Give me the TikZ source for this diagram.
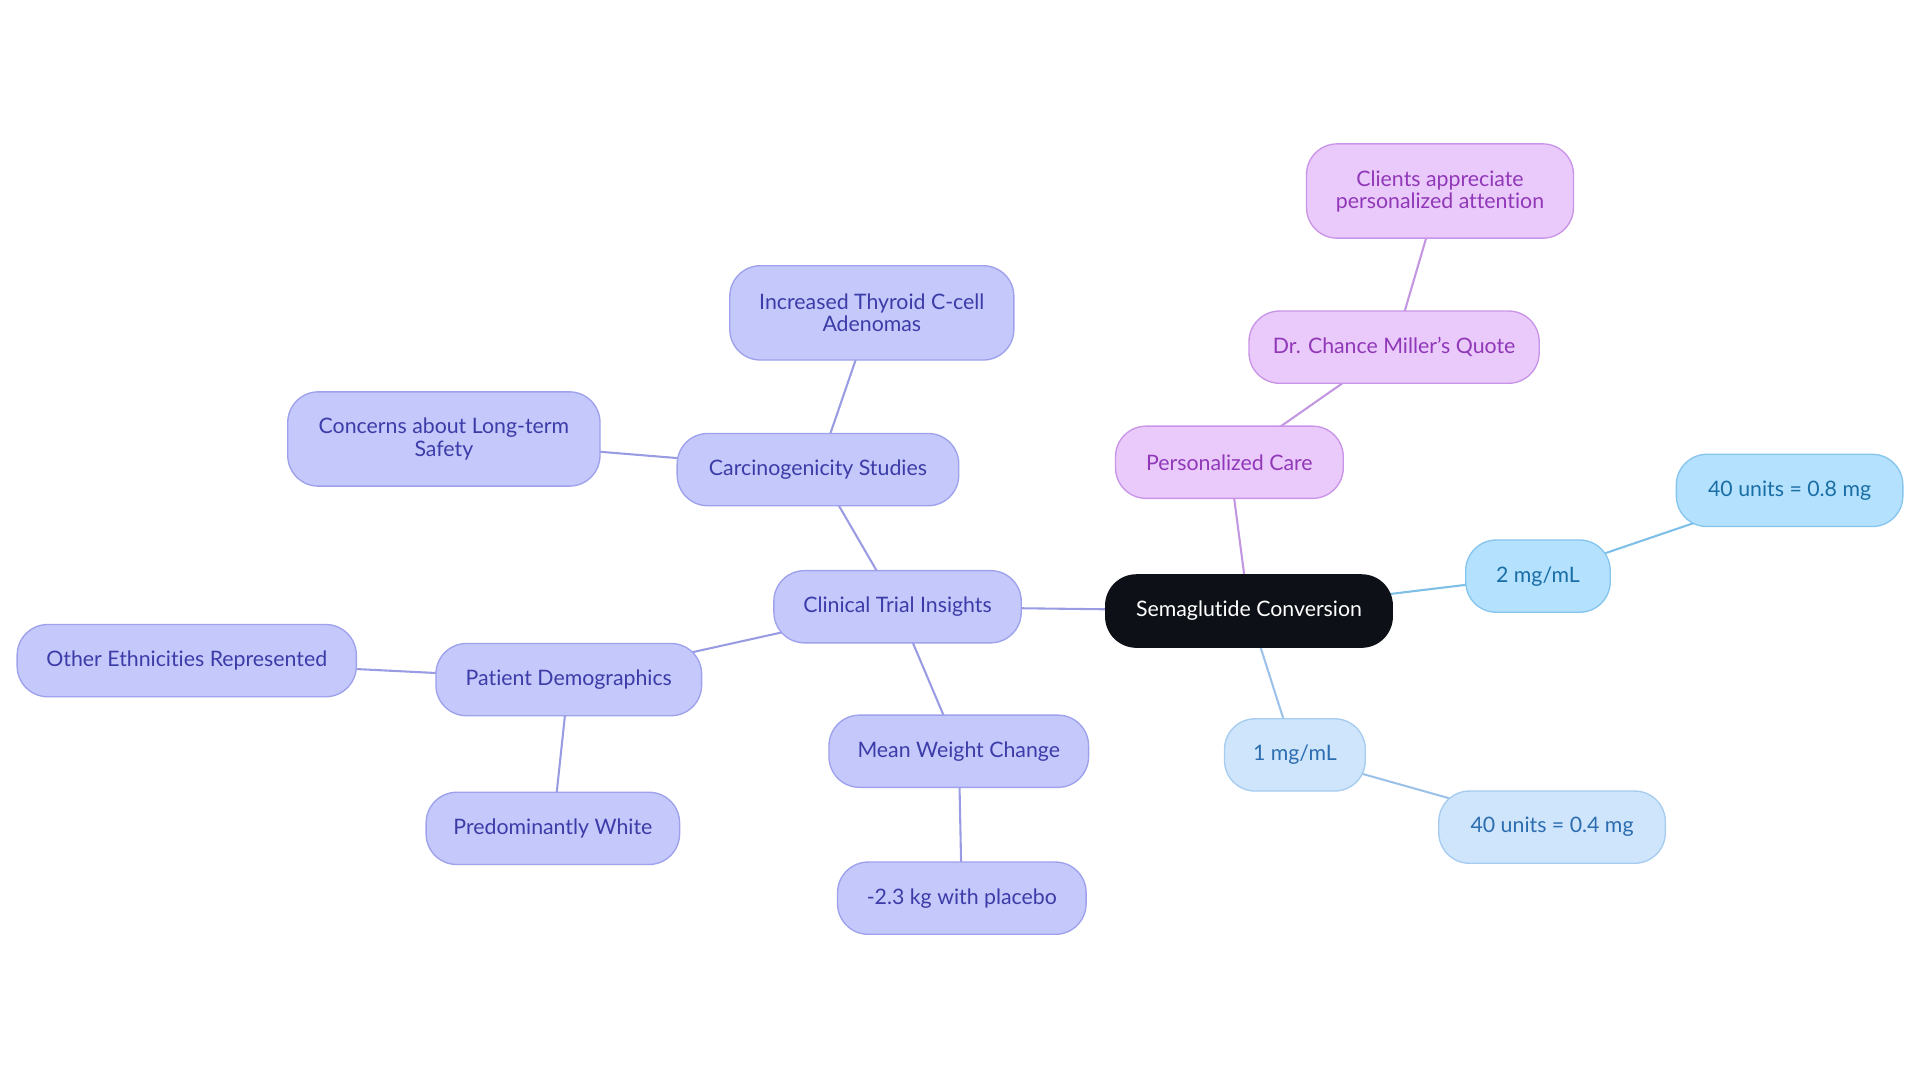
\documentclass[tikz,border=0pt]{standalone}
\usepackage{fontspec}
\setmainfont{Lato}[Ligatures=NoCommon]
\usetikzlibrary{backgrounds}
\definecolor{lavFill}{HTML}{C5C8FB}
\definecolor{lavDraw}{HTML}{9EA1EB}
\definecolor{lavText}{HTML}{3C3CA8}
\definecolor{lavEdge}{HTML}{9A9CE3}
\definecolor{purFill}{HTML}{EAC9FB}
\definecolor{purDraw}{HTML}{C995E8}
\definecolor{purText}{HTML}{9038B8}
\definecolor{purEdge}{HTML}{C396E2}
\definecolor{bluFill}{HTML}{B4E1FD}
\definecolor{bluDraw}{HTML}{86C6EE}
\definecolor{bluText}{HTML}{1A6EA6}
\definecolor{bluEdge}{HTML}{7DBFE6}
\definecolor{lbFill}{HTML}{CFE5FB}
\definecolor{lbDraw}{HTML}{A6CCF0}
\definecolor{lbText}{HTML}{2B6DB0}
\definecolor{lbEdge}{HTML}{9DC2EA}
\definecolor{darkFill}{HTML}{0D1117}
\tikzset{
  box/.style={rounded corners=25pt, inner sep=0pt, minimum height=59pt, align=center,
    font=\fontsize{17.4}{18}\selectfont, line width=1.1pt},
  lav/.style={box, fill=lavFill, draw=lavDraw, text=lavText},
  pur/.style={box, fill=purFill, draw=purDraw, text=purText},
  blu/.style={box, fill=bluFill, draw=bluDraw, text=bluText},
  lb/.style={box, fill=lbFill, draw=lbDraw, text=lbText},
  root/.style={box, fill=darkFill, draw=darkFill, text=white},
  tall/.style={minimum height=77pt},
  edge/.style={line width=1.7pt}
}
\begin{document}
\begin{tikzpicture}[x=1pt,y=-1pt]
\useasboundingbox (0,0) rectangle (1568,884.4);
\node[root, minimum width=234pt] (sema) at (1020,499) {Semaglutide Conversion};
\node[lav, minimum width=202pt] (clin) at (733,495.5) {Clinical Trial Insights};
\node[lav, minimum width=230pt] (carc) at (668,383.5) {Carcinogenicity Studies};
\node[lav, tall, minimum width=232pt] (thyr) at (712,255.5) {Increased Thyroid C-cell\\Adenomas};
\node[lav, tall, minimum width=255pt] (conc) at (362.5,358.5) {Concerns about Long-term\\Safety};
\node[lav, minimum width=217pt] (pat) at (464.5,555) {Patient Demographics};
\node[lav, minimum width=277pt] (oth) at (152.5,539.5) {Other Ethnicities Represented};
\node[lav, minimum width=207pt] (white) at (451.5,676.5) {Predominantly White};
\node[lav, minimum width=212pt] (mean) at (783,613.5) {Mean Weight Change};
\node[lav, minimum width=203pt] (plac) at (785.5,733.5) {-2.3 kg with placebo};
\node[pur, minimum width=186pt] (pcare) at (1004,377.5) {Personalized Care};
\node[pur, minimum width=237pt] (quote) at (1138.5,283.5) {Dr. Chance Miller's Quote};
\node[pur, tall, minimum width=218pt] (cli) at (1176,156) {Clients appreciate\\personalized attention};
\node[blu, minimum width=118pt] (two) at (1256,470.5) {2 mg/mL};
\node[blu, minimum width=185pt] (u08) at (1461.5,400.5) {40 units = 0.8 mg};
\node[lb, minimum width=115pt] (one) at (1057.5,616.5) {1 mg/mL};
\node[lb, minimum width=185pt] (u04) at (1267.5,675.5) {40 units = 0.4 mg};
\begin{scope}[on background layer]
\draw[edge, lavEdge] (sema.center) -- (clin.center);
\draw[edge, lavEdge] (clin.center) -- (carc.center);
\draw[edge, lavEdge] (carc.center) -- (thyr.center);
\draw[edge, lavEdge] (carc.center) -- (conc.center);
\draw[edge, lavEdge] (clin.center) -- (pat.center);
\draw[edge, lavEdge] (pat.center) -- (oth.center);
\draw[edge, lavEdge] (pat.center) -- (white.center);
\draw[edge, lavEdge] (clin.center) -- (mean.center);
\draw[edge, lavEdge] (mean.center) -- (plac.center);
\draw[edge, purEdge] (sema.center) -- (pcare.center);
\draw[edge, purEdge] (pcare.center) -- (quote.center);
\draw[edge, purEdge] (quote.center) -- (cli.center);
\draw[edge, bluEdge] (sema.center) -- (two.center);
\draw[edge, bluEdge] (two.center) -- (u08.center);
\draw[edge, lbEdge] (sema.center) -- (one.center);
\draw[edge, lbEdge] (one.center) -- (u04.center);
\end{scope}
\end{tikzpicture}
\end{document}
